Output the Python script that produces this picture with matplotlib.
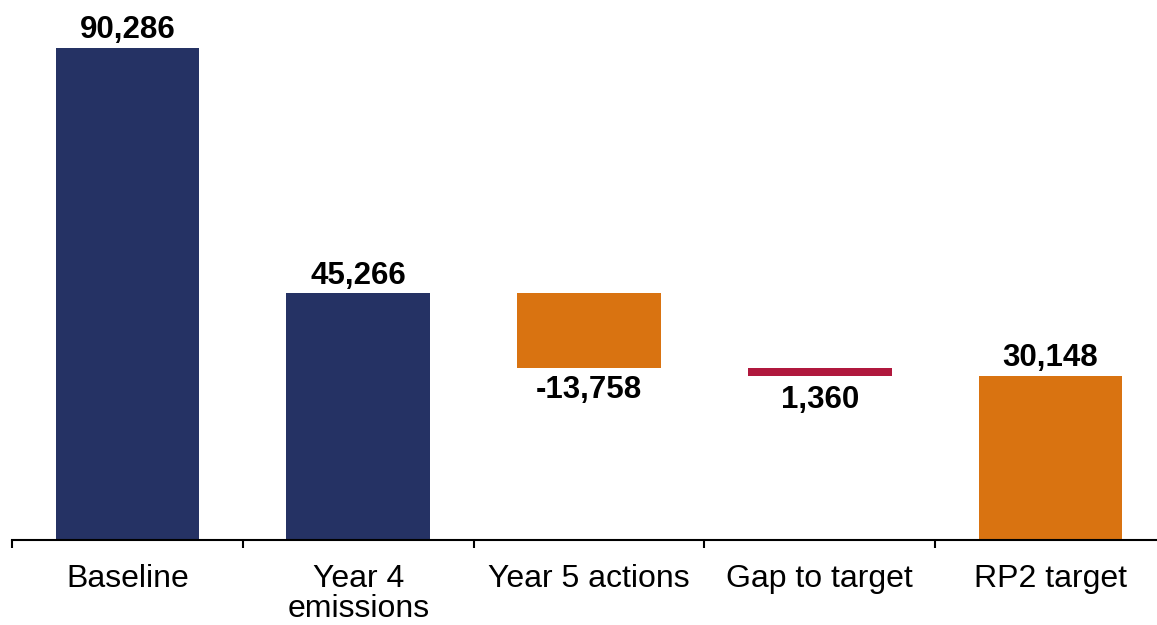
import matplotlib.pyplot as plt

plt.rcParams['font.family'] = ['Liberation Sans', 'DejaVu Sans']

categories = ['Baseline', 'Year 4\nemissions', 'Year 5 actions', 'Gap to target', 'RP2 target']
values = [90286, 45266, -13758, 1360, 30148]
labels = ['90,286', '45,266', '-13,758', '1,360', '30,148']
colors = ['#253264', '#253264', '#D97311', '#B0183D', '#D97311']

# waterfall: baseline and year 4 start at 0, actions float down from year 4,
# gap sits just above the target, target from 0
bottoms = [0, 0, values[1] + values[2], values[4], 0]
heights = [values[0], values[1], -values[2], values[3], values[4]]

fig = plt.figure(figsize=(11.57, 6.25), dpi=100)
W, H = 1157, 625
ax = fig.add_axes([12 / W, 85 / H, (1166 - 12) / W, 540 / H])

x = range(len(categories))
ax.bar(x, heights, bottom=bottoms, width=0.623, color=colors)

ax.set_xlim(-0.5, 4.5)
ax.set_ylim(0, 99094)

for i in x:
    top = bottoms[i] + heights[i]
    if values[i] < 0 or i == 3:
        ax.annotate(labels[i], (i, bottoms[i]), xytext=(0, -5 if i == 2 else -7),
                    textcoords='offset points', ha='center', va='top',
                    fontsize=22.5, fontweight='bold')
    else:
        ax.annotate(labels[i], (i, top), xytext=(0, 2), textcoords='offset points',
                    ha='center', va='bottom', fontsize=22.5, fontweight='bold')

for s in ['top', 'right', 'left']:
    ax.spines[s].set_visible(False)
ax.spines['bottom'].set_linewidth(1.5)
ax.set_yticks([])
ax.set_xticks([-0.5, 0.5, 1.5, 2.5, 3.5, 4.5])
ax.set_xticklabels([])
ax.set_xticks(list(x), minor=True)
ax.set_xticklabels(categories, minor=True, fontsize=23, linespacing=1.0)
ax.tick_params(axis='x', which='major', length=6, width=1.5)
ax.tick_params(axis='x', which='minor', length=0, pad=17)

fig.savefig('out.png', dpi=100)
